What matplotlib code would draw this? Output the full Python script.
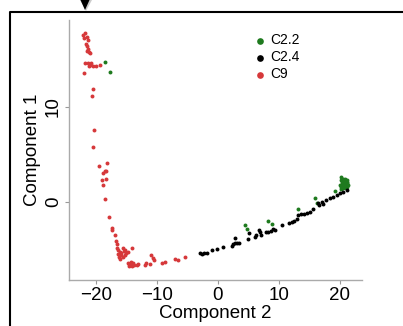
import matplotlib
matplotlib.use("Agg")
import matplotlib.pyplot as plt
from matplotlib.lines import Line2D
from matplotlib.patches import Polygon

plt.rcParams["font.family"] = ["Liberation Sans", "DejaVu Sans"]

# cluster C2.2 (green)
c22_x = [-18.5, -17.7, 4.5, 4.7, 8.25, 8.8, 13.1, 15.9, 16.2, 19.2, 20.1,
         20.2, 20.5, 20.8, 21.1, 20.5, 21.1, 20.2, 20.7, 20.3, 20.8, 21.15,
         20.7, 21.0, 20.3, 21.3, 20.5, 20.8, 20.0, 20.2, 20.9, 21.2, 20.6]
c22_y = [14.8, 13.7, -2.45, -2.9, -2.0, -2.35, -0.8, 0.35, -0.15, 1.15, 2.65,
         2.3, 1.95, 1.75, 1.6, 1.4, 2.3, 1.6, 2.2, 1.85, 2.1, 1.95,
         1.65, 1.45, 2.1, 1.75, 2.4, 2.4, 1.75, 1.35, 1.9, 2.05, 1.55]

# cluster C2.4 (black)
c24_x = [-2.95, -2.65, -2.3, -1.85, -1.0, -0.2, 0.8, 2.4, 2.5, 2.8, 3.15,
         3.5, 2.8, 5.0, 5.1, 6.1, 6.3, 6.9, 7.0, 6.8, 7.9, 8.25, 8.65, 9.05,
         9.35, 10.45, 11.7, 12.1, 12.45, 12.9, 13.15, 13.7, 14.1, 14.55,
         15.1, 15.6, 16.45, 17.0, 17.8, 18.35, 18.9, 19.45, 20.0, 20.55,
         21.1, 16.6, 17.15]
c24_y = [-5.45, -5.55, -5.45, -5.4, -5.15, -5.0, -4.75, -4.7, -4.45, -4.35,
         -4.4, -4.35, -3.85, -3.95, -3.35, -3.75, -3.5, -3.25, -3.5, -3.0,
         -3.25, -3.15, -3.05, -2.9, -3.0, -2.45, -2.2, -2.1, -2.0, -1.85,
         -1.45, -1.35, -1.25, -1.15, -1.05, -0.8, -0.15, 0.0, 0.2, 0.35,
         0.55, 0.7, 0.9, 1.05, 1.25, -0.35, -0.25]

# cluster C9 (red)
c9_x = [-22.1, -21.8, -21.5, -22.0, -21.3, -21.6, -21.4, -21.3, -21.5, -21.1,
        -21.0, -21.8, -21.3, -21.0, -20.7, -21.1, -20.4, -19.9, -19.3, -22.0,
        -20.4, -20.6, -20.3, -20.4, -19.5, -18.1, -18.5, -18.8, -18.3, -18.9,
        -18.4, -18.8, -18.5, -17.8, -17.3, -17.3, -16.9, -16.7, -16.5, -16.6,
        -16.3, -16.1, -15.8, -15.5, -15.2, -15.0, -14.7, -14.1, -16.2, -16.0,
        -15.5, -15.2, -14.7, -14.4, -14.1, -13.9, -13.3, -13.1, -12.0, -11.7,
        -11.1, -10.9, -10.7, -10.5, -9.2, -8.7, -7.0, -6.5, -5.4, -14.5,
        -14.3, -14.0, -14.6, -13.7, -15.8, -16.4, -15.3]
c9_y = [17.6, 17.8, 17.4, 17.3, 17.1, 16.7, 16.4, 16.1, 15.9, 15.8,
        15.7, 14.7, 14.6, 14.4, 14.7, 14.3, 14.3, 14.3, 14.4, 13.6,
        11.9, 11.2, 7.6, 5.8, 3.8, 4.1, 3.2, 3.0, 3.2, 2.3,
        2.4, 1.8, 0.3, -1.6, -2.8, -3.0, -3.5, -4.2, -4.5, -4.9,
        -5.1, -5.3, -5.4, -4.9, -5.1, -5.4, -5.3, -4.9, -5.8, -6.0,
        -5.8, -5.6, -6.5, -6.7, -6.6, -6.5, -6.7, -6.6, -6.7, -6.5,
        -6.6, -5.6, -5.9, -6.2, -6.5, -6.4, -6.1, -6.2, -5.8, -6.8,
        -6.4, -6.8, -6.6, -6.7, -5.6, -5.5, -5.2]

green = "#1e7a1e"
red = "#d6383a"

fig = plt.figure(figsize=(4.03, 3.26), dpi=100)
ax = fig.add_axes([0.171, 0.141, 0.727, 0.798])

ax.scatter(c22_x, c22_y, s=8, color=green, linewidths=0, label="C2.2")
ax.scatter(c24_x, c24_y, s=8, color="black", linewidths=0, label="C2.4")
ax.scatter(c9_x, c9_y, s=8, color=red, linewidths=0, label="C9")

ax.set_xlim(-24.4, 23.6)
ax.set_ylim(-8.27, 19.2)
ax.set_xticks([-20, -10, 0, 10, 20])
ax.set_yticks([0, 10])
ax.set_xlabel("Component 2", fontsize=13.5, labelpad=1)
ax.set_ylabel("Component 1", fontsize=13.5, labelpad=3)
ax.tick_params(labelsize=13.5, length=3, color="#999999", pad=2)
for lab in ax.get_yticklabels():
    lab.set_rotation(90)
    lab.set_va("center")

for s in ["top", "right"]:
    ax.spines[s].set_visible(False)
for s in ["left", "bottom"]:
    ax.spines[s].set_color("#aaaaaa")
    ax.spines[s].set_linewidth(1)

ax.legend(loc="upper left", bbox_to_anchor=(0.615, 0.975), frameon=False,
          fontsize=10, handlelength=0.6, handletextpad=0.45, labelspacing=0.22,
          markerscale=1.7, borderpad=0)

# panel frame and arrow
fig.add_artist(Line2D([10 / 403, 10 / 403, 1], [0, 1 - 12 / 326, 1 - 12 / 326],
                      transform=fig.transFigure, color="black", lw=1.5))
fig.add_artist(Polygon([[86 / 403, 1 - 11 / 326], [80 / 403, 1.0], [92 / 403, 1.0]],
                       closed=True, transform=fig.transFigure,
                       facecolor="#999999", edgecolor="none", alpha=0.5))
fig.add_artist(Polygon([[85 / 403, 1 - 10 / 326], [80.5 / 403, 1.0], [89.5 / 403, 1.0]],
                       closed=True, transform=fig.transFigure,
                       facecolor="black", edgecolor="none"))

fig.savefig("out.png", dpi=100)
